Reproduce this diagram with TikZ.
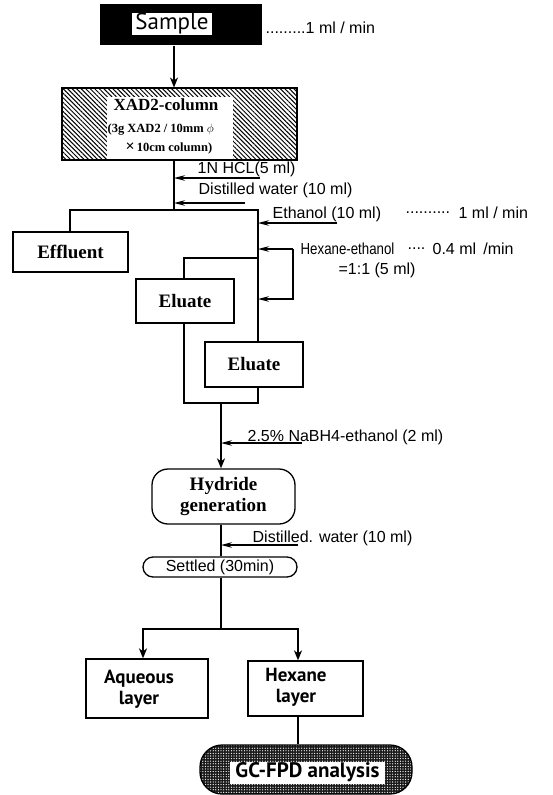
\documentclass[tikz,border=0pt]{standalone}
\usepackage{fontspec}
\setmainfont{Liberation Serif}
\setsansfont{Liberation Sans}
\newfontfamily\humsans{PT Sans}
\usetikzlibrary{arrows.meta,patterns.meta}
\begin{document}
\begin{tikzpicture}[x=1pt,y=-1pt,line width=1.3pt,
  box/.style={draw, inner sep=0pt, line width=1.3pt},
  serifbold/.style={font=\bfseries\fontsize{19}{21}\selectfont, align=center},
  humbold/.style={font=\humsans\bfseries\fontsize{19}{21}\selectfont, align=center, inner sep=0pt},
  anno/.style={font=\sffamily\fontsize{16}{18}\selectfont, anchor=west, inner sep=0pt},
  darr/.style={-{Stealth[length=10pt,width=8pt,inset=3pt]}},
  rarr/.style={-{Stealth[length=11pt,width=5.5pt]}},
]
\useasboundingbox (0,0) rectangle (553,795);

% ---------- Sample ----------
\node[fill=black, minimum width=162pt, minimum height=41pt, inner sep=0pt] (sample) at (181,24.5) {};
\node[fill=white, minimum width=80pt, minimum height=22pt, inner sep=0pt,
      font=\humsans\fontsize{23}{24}\selectfont] (samplelbl) at (172,24) {Sample};
\node[anno] (rate1) at (265,28) {.........1 ml / min};

% ---------- XAD2 column ----------
\node[box, minimum width=235pt, minimum height=72pt,
      pattern={Lines[angle=-45,distance=3.2pt,line width=1pt]}] (xad) at (179.5,124) {};
\node[fill=white, minimum width=126pt, minimum height=61.5pt, inner sep=0pt] (xadin) at (170,128) {};
\node[font=\bfseries\fontsize{17}{19}\selectfont, inner sep=0pt] (xad1) at (166,105) {XAD2-column};
\node[font=\bfseries\fontsize{12.5}{15}\selectfont, inner sep=0pt, anchor=west] (xad2) at (107,130) {(3g XAD2 / 10mm $\phi$};
\node[font=\bfseries\fontsize{12.5}{15}\selectfont, inner sep=0pt, anchor=west] (xad3) at (125,148) {{\fontsize{16}{16}\selectfont×}\,10cm column)};

% ---------- boxes ----------
\node[box, serifbold, minimum width=115pt, minimum height=40pt] (eff) at (70.5,252) {Effluent};
\node[box, serifbold, minimum width=98pt, minimum height=44pt] (el1) at (185,301) {Eluate};
\node[box, serifbold, minimum width=98pt, minimum height=45pt] (el2) at (254,364.5) {Eluate};
\node[box, serifbold, rounded corners=16pt, minimum width=143pt, minimum height=55pt] (hyd) at (223.5,496.5) {Hydride\\generation};
\node[box, rounded corners=10pt, minimum width=154pt, minimum height=20pt,
      font=\sffamily\fontsize{16}{18}\selectfont] (set) at (220,567) {Settled (30min)};
\node[box, minimum width=122pt, minimum height=59pt] (aq) at (147,688.5) {};
\node[humbold] (aqt) at (139,689) {Aqueous\\layer};
\node[box, minimum width=115pt, minimum height=55pt] (hex) at (305.5,688.5) {};
\node[humbold] (hext) at (296,687) {Hexane\\layer};
\node[draw, rounded corners=22pt, minimum width=212pt, minimum height=49pt,
      preaction={fill=black!90},
      pattern={Dots[distance=2.6pt,radius=0.65pt]}, pattern color=white] (gc) at (306,769.5) {};
\node[fill=white, inner sep=0pt, minimum width=155pt, minimum height=22pt,
      font=\humsans\bfseries\fontsize{21}{22}\selectfont] (gct) at (307.5,772.5) {GC-FPD analysis};

% ---------- junction coordinates ----------
\coordinate (colx) at (174,0);
\coordinate (splitL) at (70,210);
\coordinate (splitR) at (258,210);
\coordinate (rx) at (258,0);
\coordinate (br) at (258,258);
\coordinate (brL) at (184,258);
\coordinate (mL) at (184,403);
\coordinate (mR) at (258,403);
\coordinate (mC) at (221,403);
\coordinate (sC) at (221,629);
\coordinate (sL) at (143,629);
\coordinate (sR) at (298,629);

% ---------- connectors ----------
\draw[darr] (sample.south -| colx) -- (xad.north -| colx);
\draw (xad.south -| colx) -- (colx |- splitL);
\draw (eff.north -| splitL) -- (splitL) -- (splitR) -- (el2.north -| splitR);
\draw (br) -- (brL) -- (el1.north -| brL);
\draw (el1.south -| mL) -- (mL) -- (mR) -- (el2.south -| mR);
\draw[darr] (mC) -- (hyd.north -| mC);
\draw (hyd.south -| mC) -- (set.north -| mC);
\draw (set.south -| sC) -- (sC);
\draw[darr] (sC) -- (sL) -- (aq.north -| sL);
\draw[darr] (sC) -- (sR) -- (hex.north -| sR);
\draw (hex.south -| sR) -- (gc.north -| sR);

% ---------- reagents ----------
\node[anno] (hcl) at (197,169) {1N HCL(5 ml)};
\coordinate (hclE) at (260,178);
\draw[rarr] (hclE) -- (colx |- hclE);

\node[anno] (dw1) at (198,190) {Distilled water (10 ml)};
\coordinate (dw1E) at (245,203);
\draw[rarr] (dw1E) -- (colx |- dw1E);

\node[anno] (eth) at (272,214) {Ethanol (10 ml)};
\node[anno] (rate2dots) at (405,213) {..........};
\node[anno] (rate2) at (458,213) {1 ml / min};
\coordinate (ethE) at (337,223);
\draw[rarr] (ethE) -- (rx |- ethE);

\node[anno] (hexeth) at (300,249) {\scalebox{0.83}[1]{Hexane-ethanol}};
\node[anno] (hexeth2) at (338,270) {=1:1 (5 ml)};
\node[anno] (rate3dots) at (407,249) {....};
\node[anno] (rate3) at (432,249) {0.4 ml \,/min};
\coordinate (hxT) at (293,249);
\coordinate (hxB) at (293,299);
\draw[rarr] (hxT) -- (rx |- hxT);
\draw[rarr] (hxT) -- (hxB) -- (rx |- hxB);

\node[anno] (nabh) at (247,437) {2.5\% NaBH4-ethanol (2 ml)};
\coordinate (nabhE) at (302,443);
\draw[rarr] (nabhE) -- (mC |- nabhE);

\node[anno] (dw2) at (252,538) {Distilled. water (10 ml)};
\coordinate (dw2E) at (298,545);
\draw[rarr] (dw2E) -- (mC |- dw2E);
\end{tikzpicture}
\end{document}
